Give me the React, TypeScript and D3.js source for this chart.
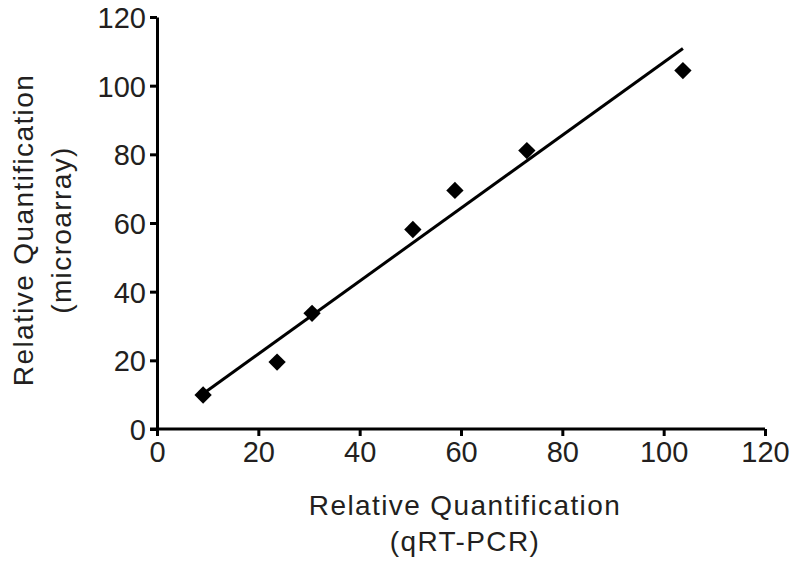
import { useEffect, useRef } from "react";
import * as d3 from "d3";

const qrtPcr = [9.1, 23.7, 30.6, 50.5, 58.8, 73, 103.8];
const microarray = [9.9, 19.5, 33.7, 58.1, 69.5, 81.1, 104.4];
const fitX = [9.3, 103.8];
const fitY = [10.5, 110.8];
const ticks = [0, 20, 40, 60, 80, 100, 120];

export default function App() {
  const ref = useRef<SVGSVGElement>(null);

  useEffect(() => {
    const w = 791,
      h = 568;
    const svg = d3.select(ref.current);
    svg.selectAll("*").remove();
    svg.attr("width", w).attr("height", h);

    const x = d3.scaleLinear().domain([0, 120]).range([157, 765]);
    const y = d3.scaleLinear().domain([0, 120]).range([429, 17]);
    const font = "Liberation Sans, Arial, sans-serif";

    // axes
    const xAxis = svg
      .append("g")
      .attr("transform", `translate(0,${y(0)})`)
      .call(d3.axisBottom(x).tickValues(ticks).tickSize(7).tickPadding(5).tickSizeOuter(0));
    const yAxis = svg
      .append("g")
      .attr("transform", `translate(${x(0)},0)`)
      .call(d3.axisLeft(y).tickValues(ticks).tickSize(7).tickPadding(4).tickSizeOuter(0));

    [xAxis, yAxis].forEach((g) => {
      g.select(".domain").attr("stroke", "#000").attr("stroke-width", 3);
      g.selectAll(".tick line").attr("stroke", "#000").attr("stroke-width", 3);
      g.selectAll(".tick text")
        .attr("fill", "#231f20")
        .attr("font-family", font)
        .attr("font-size", 29);
    });
    yAxis.selectAll(".tick text").attr("dy", "0.36em");
    // x axis line reaches under the y axis' zero tick
    xAxis.select(".domain").attr("d", `M${x(0) - 7},0H${x(120)}`);

    // fit line
    const line = d3
      .line<number>()
      .x((d) => x(fitX[d]))
      .y((d) => y(fitY[d]));
    svg
      .append("path")
      .datum([0, 1])
      .attr("d", line)
      .attr("fill", "none")
      .attr("stroke", "#000")
      .attr("stroke-width", 3);

    // diamonds
    const sym = d3.symbol().type(d3.symbolSquare).size(150);
    svg
      .selectAll(".pt")
      .data(qrtPcr.map((v, i) => [v, microarray[i]]))
      .join("path")
      .attr("d", sym)
      .attr("transform", (d) => `translate(${x(d[0])},${y(d[1])}) rotate(45)`)
      .attr("fill", "#000");

    // titles
    const xt = svg
      .append("text")
      .attr("text-anchor", "middle")
      .attr("font-family", font)
      .attr("font-size", 28)
      .attr("letter-spacing", 1.4)
      .attr("fill", "#231f20");
    xt.append("tspan").attr("x", 465).attr("y", 515).text("Relative Quantification");
    xt.append("tspan").attr("x", 465).attr("y", 551).text("(qRT-PCR)");

    const yt = svg
      .append("text")
      .attr("transform", `translate(0,230) rotate(-90)`)
      .attr("text-anchor", "middle")
      .attr("font-family", font)
      .attr("font-size", 28)
      .attr("letter-spacing", 1.4)
      .attr("fill", "#231f20");
    yt.append("tspan").attr("x", 0).attr("y", 33).text("Relative Quantification");
    yt.append("tspan").attr("x", 0).attr("y", 71).text("(microarray)");
  }, []);

  return <svg ref={ref} style={{ position: "absolute", left: 0, top: 0 }} />;
}
